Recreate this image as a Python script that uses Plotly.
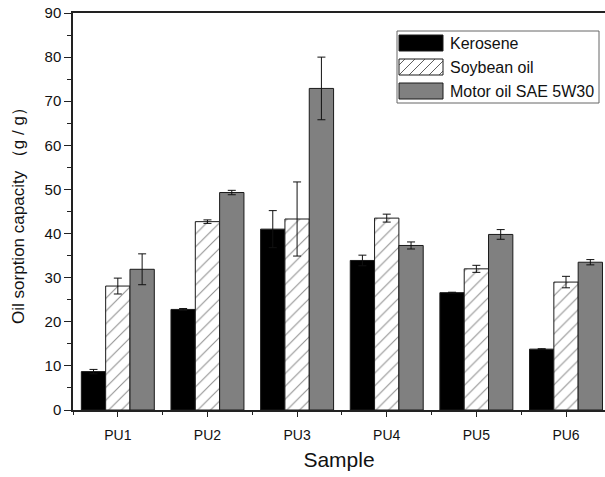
import plotly.graph_objects as go

samples = ["PU1", "PU2", "PU3", "PU4", "PU5", "PU6"]
kerosene = [8.7, 22.8, 41.0, 33.9, 26.6, 13.8]
kerosene_err = [0.5, 0.2, 4.2, 1.2, 0.1, 0.1]
soybean = [28.1, 42.7, 43.3, 43.5, 32.0, 29.0]
soybean_err = [1.8, 0.4, 8.4, 0.9, 0.8, 1.3]
motor = [31.9, 49.3, 72.9, 37.3, 39.8, 33.5]
motor_err = [3.5, 0.5, 7.1, 0.8, 1.1, 0.6]
series_names = ["Kerosene", "Soybean oil", "Motor oil SAE 5W30"]

FONT = "Liberation Sans, Arial, sans-serif"
W, H = 605, 477
ML, MR, MT, MB = 73, 0, 13, 67
PW, PH = W - ML - MR, H - MT - MB

def px(x):
    return (x - ML) / PW

def py(y):
    return (H - MB - y) / PH

xpos = list(range(len(samples)))
outline = dict(color="#1a1a1a", width=1)
err_style = dict(type="data", color="#111", thickness=1, width=4, visible=True)
hatch = dict(shape="/", fgcolor="#222", bgcolor="#ffffff", size=9, solidity=0.12)

fig = go.Figure()
fig.add_trace(go.Bar(
    x=xpos, y=kerosene, name=series_names[0],
    marker=dict(color="#000000", line=outline),
    error_y=dict(array=kerosene_err, **err_style),
))
fig.add_trace(go.Bar(
    x=xpos, y=soybean, name=series_names[1],
    marker=dict(color="#ffffff", line=outline, pattern=hatch),
    error_y=dict(array=soybean_err, **err_style),
))
fig.add_trace(go.Bar(
    x=xpos, y=motor, name=series_names[2],
    marker=dict(color="#808080", line=outline),
    error_y=dict(array=motor_err, **err_style),
))

# custom legend (larger swatches like the original)
shapes = []
annotations = []
shapes.append(dict(type="rect", xref="paper", yref="paper",
                   x0=px(397), x1=px(599), y0=py(103), y1=py(31),
                   line=dict(color="#666", width=1), fillcolor="white", layer="above"))
swatch_fill = ["#000000", "#ffffff", "#808080"]
row_y = [43, 67, 91]
sx0, sx1, sh = 399, 443, 16
for i, name in enumerate(series_names):
    y0, y1 = row_y[i] - sh / 2, row_y[i] + sh / 2
    shapes.append(dict(type="rect", xref="paper", yref="paper",
                       x0=px(sx0), x1=px(sx1), y0=py(y1), y1=py(y0),
                       line=dict(color="#1a1a1a", width=1), fillcolor=swatch_fill[i],
                       layer="above"))
    if i == 1:
        c = sx0 + y0 + 6
        while c < sx1 + y1:
            lo = max(sx0, c - y1)
            hi = min(sx1, c - y0)
            if hi > lo:
                shapes.append(dict(type="line", xref="paper", yref="paper",
                                   x0=px(lo), y0=py(c - lo), x1=px(hi), y1=py(c - hi),
                                   line=dict(color="#333", width=0.8), layer="above"))
            c += 10
    annotations.append(dict(text=name, xref="paper", yref="paper",
                            x=px(448), y=py(row_y[i]), xanchor="left", yanchor="middle",
                            showarrow=False,
                            font=dict(family=FONT, size=16, color="#111")))

fig.update_layout(
    width=W, height=H,
    margin=dict(l=ML, r=MR, t=MT, b=MB),
    paper_bgcolor="white", plot_bgcolor="white",
    barmode="group", bargap=0.186, bargroupgap=0,
    font=dict(family=FONT, size=14, color="#111"),
    showlegend=False,
    shapes=shapes, annotations=annotations,
)
fig.update_xaxes(
    range=[-0.5, 5.435],
    tickvals=xpos, ticktext=samples,
    showline=True, linecolor="#222", linewidth=1.5, mirror=True,
    ticks="outside", ticklen=5, tickcolor="#222",
    minor=dict(tick0=0.5, dtick=1, ticks="outside", ticklen=3, tickcolor="#222"),
    ticklabelstandoff=6,
    showgrid=False, zeroline=False,
    tickfont=dict(family=FONT, size=14, color="#111"),
    title=dict(text="Sample", font=dict(family=FONT, size=21, color="#111"), standoff=11),
)
fig.update_yaxes(
    range=[0, 90], dtick=10,
    showline=True, linecolor="#222", linewidth=1.5, mirror=False,
    ticks="outside", ticklen=7, tickcolor="#222",
    minor=dict(dtick=5, ticks="outside", ticklen=4, tickcolor="#222"),
    showgrid=False, zeroline=False,
    tickfont=dict(family=FONT, size=15, color="#111"),
    title=dict(text="Oil sorption capacity （g / g）",
               font=dict(family=FONT, size=17, color="#111"), standoff=16),
)

fig.write_html("out.html")
